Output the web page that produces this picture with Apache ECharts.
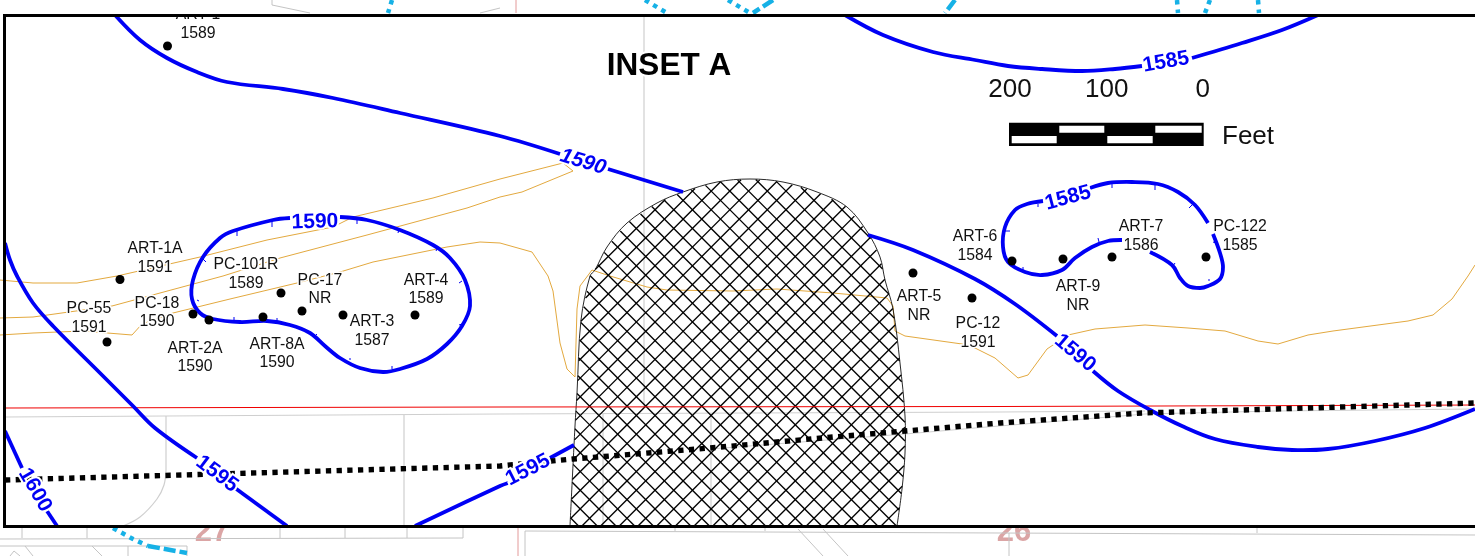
<!DOCTYPE html>
<html>
<head>
<meta charset="utf-8">
<style>html,body{margin:0;padding:0;background:#fff}#c{width:1475px;height:556px}</style>
<script src="https://cdn.jsdelivr.net/npm/echarts@6/dist/echarts.min.js"></script>
</head>
<body>
<div id="c"></div>
<script>
// ---- Map data (map coordinates, y downwards) ----
const wellNames    = ['ART-1','ART-1A','PC-55','PC-18','ART-2A','ART-8A','PC-101R','PC-17','ART-3','ART-4','ART-5','PC-12','ART-6','ART-9','ART-7','PC-122'];
const wellReadings = ['1589','1591','1591','1590','1590','1590','1589','NR','1587','1589','NR','1591','1584','NR','1586','1585'];
const wellX        = [167.5,120,107,193,209,263,281,302,343,415,913,972,1012,1063,1112,1206];
const wellY        = [46,279.5,342,314,320,317,293,311,315,315,273,298,261,259,257,257];
const wellLabelX   = [198,155,89,157,195,277,246,320,372,426,919,978,975,1078,1141,1240];
const wellLabelY   = [24,258,318,312.5,357.5,353.7,274,289.5,331,289.5,306,333,246,296,236,236];

const contour1590a = [[115,15],[140,40],[167,58],[197,72],[227,82],[283,89],[333,98],[400,113],[500,136],[560,154]];
const contour1590b = [[608,169],[683,192]];
const contour1590c = [[868,235],[913,250],[975,279],[1015,304],[1057,336]];
const contour1590d = [[1093,371],[1118,391],[1152,411],[1182,426],[1215,439],[1258,447],[1292,450],[1328,449],[1375,441],[1425,428],[1475,409]];
const loop1590     = [[340,217],[367,220],[400,230],[433,245],[450,258],[465,280],[470,306],[462,326],[447,344],[427,359],[400,369],[383,372],[360,368],[340,358],[325,346],[310,333],[290,325],[267,321],[240,322],[213,319],[200,313],[192,299],[193,280],[203,257],[220,238],[233,231],[273,220],[290,218]];
const loop1585a    = [[1090,188],[1108,183],[1132,182],[1158,184],[1178,192],[1195,205],[1208,223]];
const loop1585b    = [[1213,234],[1220,253],[1223,267],[1220,279],[1208,286],[1200,288],[1188,286],[1180,278],[1172,265],[1150,252]];
const loop1585c    = [[1122,240],[1108,241],[1092,247],[1075,258],[1062,270],[1042,275],[1025,272],[1008,262],[1003,247],[1005,227],[1015,210],[1027,204],[1043,201]];
const contour1585a = [[845,15],[883,35],[933,52],[975,60],[1008,66],[1042,69],[1082,71],[1115,69],[1142,66]];
const contour1585b = [[1192,58],[1242,43],[1282,30],[1318,15]];
const contour1595a = [[5,243],[10,260],[17,276],[33,303],[53,326],[100,373],[133,406],[155,428],[197,458]];
const contour1595b = [[235,488],[287,526]];
const contour1595c = [[415,526],[500,486],[508,483]];
const contour1595d = [[550,458],[574,445]];
const contour1600a = [[5,431],[22,468]];
const contour1600b = [[47,511],[57,526]];
const contourLabels = [['1590',583,162,-17,'italic'],['1590',315,222,2,'normal'],['1590',1075,353,-40,'normal'],['1595',217,474,-37,'normal'],['1595',528,470,27,'normal'],['1600',35,490,-60,'normal'],['1585',1166,62,10,'normal'],['1585',1068,198,15,'normal']];
const depressionTicks = [[[237,231],[237,236]],[[272,221],[272,227]],[[357,219],[357,224]],[[399,229],[398,233]],[[438,247],[436,251]],[[203,259],[206,262]],[[197,300],[199,301]],[[234,317],[234,320]],[[277,318],[277,322]],[[317,334],[315,336]],[[350,358],[350,360]],[[392,366],[392,369]],[[433,354],[431,357]],[[462,324],[459,325]],[[462,281],[459,283]],[[1038,204],[1038,207]],[[1005,231],[1010,231]],[[1112,184],[1112,188]],[[1155,185],[1155,190]],[[1192,205],[1189,208]],[[1213,242],[1216,243]],[[1175,263],[1173,266]],[[1098,238],[1099,242]],[[1023,267],[1023,270]],[[1209,279],[1209,281]]];

const orange1 = [[0,280],[33,283],[77,283],[117,276],[200,257],[267,240],[333,227],[353,217],[433,198],[500,179],[563,163],[573,171],[522,192],[500,197],[467,208],[367,235],[280,258],[223,276],[160,293],[112,306],[33,317],[0,318]];
const orange2 = [[0,335],[33,333],[83,331],[132,335],[142,324],[173,313],[230,299],[297,283],[340,272],[373,262],[447,247],[480,242],[500,243],[532,252],[548,276],[553,291],[560,343],[567,369],[575,377],[577,309],[580,286],[592,270],[610,276],[647,287],[667,290],[733,291],[777,289],[833,293],[887,298],[893,306],[895,331],[905,336],[962,344],[975,348],[995,358],[1018,378],[1028,375],[1047,349],[1068,335],[1095,329],[1145,325],[1188,328],[1225,331],[1258,341],[1278,344],[1308,335],[1333,331],[1408,321],[1433,315],[1452,299],[1468,276],[1475,265]];

const parcelLines = [
  [[644,15],[644,408]],
  [[5,417],[166,416],[500,414],[1000,412],[1145,411]],
  [[710,449],[905,434],[975,428],[1145,414],[1275,411],[1475,409]],
  [[166,416],[166,470]],
  [[404,415],[404,526]],
  [[603,414],[603,526]],
  [[711,414],[711,526]]
];
const parcelCurve = [[166,470],[164,485],[157,499],[140,517],[123,526]];
const outsideGrayLines = [
  [[272,0],[272,5],[310,13]],[[480,13],[500,8]],
  [[0,539],[463,538]],[[22,527],[22,538]],[[87,527],[87,538]],[[280,527],[280,538]],[[345,527],[345,538]],[[407,527],[407,538]],[[463,527],[463,538]],
  [[0,546],[187,546],[187,556]],[[128,546],[128,556]],[[10,556],[14,551],[20,556]],[[25,546],[33,556]],[[92,546],[102,556]],
  [[525,556],[525,531],[1475,535]],[[675,527],[675,531]],[[765,527],[765,531]],[[798,529],[823,556]],[[823,529],[848,556]],
  [[1009,533],[1009,556]],[[1257,527],[1257,533]]
];
const outsideRedLines = [[[516,0],[516,13]],[[518,527],[518,556]]];
const cyanDotted = [[[645,0],[667,13]],[[728,0],[750,13]],[[1177,0],[1178,13]],[[1210,0],[1205,13]],[[1258,0],[1259,13]],[[392,0],[388,13]],[[113,528],[133,539],[148,546]]];
const cyanDashed = [[[773,0],[753,13]],[[955,0],[945,13]],[[148,546],[187,553]]];
const redLine = [[5,408],[500,407],[1000,406.5],[1475,405]];
const dottedBoundary = [[5,480],[500,466],[573,459],[710,448],[833,437],[905,431],[1000,423],[1142,413],[1308,408],[1475,403]];
const hatchOutline = [[570,526],[575,426],[577,393],[581,320],[590,276],[595,270],[607,247],[627,223],[657,203],[683,192],[717,182],[750,179],[783,182],[817,192],[847,207],[868,233],[880,257],[885,280],[893,309],[900,363],[905,416],[905,453],[902,489],[897,526]];
const hatchSpacing = 18.7, hatchPhaseSum = 958.3, hatchPhaseDiff = 258.3;
const sectionNumbers = [['27',212,532],['26',1014,532]];
const scaleTicks = ['200','100','0'], scaleTickX = [1010,1106.7,1202.7];
const scaleFrame = [1009,122.7,1203.7,146];
const scaleWhiteCells = [[1059.3,125.7,1104.3,132.7],[1155.3,125.7,1201.7,132.7],[1011.7,136,1056.7,143.3],[1107.3,136,1152.7,143.3]];
const insideRect = [4.5,15.5,1475,526.5];

// ---- helpers ----
const font = '"Liberation Sans", Arial, sans-serif';
const Z = {pink:1, white:2, parcel:3, orange:4, hatch:5, red:6, contour:7, dotted:8, wells:9, text:10, mask:12, outside:13, frame:14};
function poly(pts, color, width, z, opt){
  return Object.assign({type:'line', data:pts, showSymbol:false, symbol:'none', silent:true, z:z, animation:false, clip:false,
    lineStyle:{color:color, width:width, cap:'butt', join:'round'}}, opt||{});
}
// free-form curve through the data points
function curve(pts, color, width, z){
  return {type:'custom', coordinateSystem:'cartesian2d', data:pts, silent:true, z:z, animation:false, clip:false,
    renderItem(p, api){
      if(p.dataIndex!==0) return null;
      return {type:'polyline', shape:{points:pts.map(q=>api.coord(q)), smooth:0.35},
        style:{fill:null, stroke:color, lineWidth:width, lineCap:'butt', lineJoin:'round'}};
    }};
}
function rectSeries(rects, fill, z){
  return {type:'custom', coordinateSystem:'cartesian2d', data:rects.map((r,i)=>[i]), silent:true, z:z, animation:false, clip:false,
    renderItem(p, api){
      const r = rects[api.value(0)], a = api.coord([r[0],r[1]]), b = api.coord([r[2],r[3]]);
      return {type:'rect', shape:{x:a[0],y:a[1],width:b[0]-a[0],height:b[1]-a[1]}, style:{fill:fill}};
    }};
}
function textSeries(rows, style, z){
  return {type:'scatter', symbolSize:1, silent:true, z:z, animation:false, clip:false,
    itemStyle:{color:'rgba(0,0,0,0)',opacity:1},
    data:rows.map(r=>({value:[r.x,r.y], label:Object.assign({show:true, opacity:1, position:'inside', formatter:r.text, rotate:r.rotate||0,
      fontStyle:r.fontStyle||'normal', align:r.align||'center', verticalAlign:'middle'}, style)}))};
}
function hatchSegments(){
  // clip two diagonal line families against the outline polygon
  const segs=[], n=hatchOutline.length;
  const fam=(sign,phase)=>{
    for(let k=-80;k<=80;k++){
      const c=phase+k*hatchSpacing, hits=[];
      for(let i=0;i<n;i++){
        const A=hatchOutline[i],B=hatchOutline[(i+1)%n];
        const fa=A[0]+sign*A[1]-c, fb=B[0]+sign*B[1]-c;
        if((fa<0)!==(fb<0)){const t=fa/(fa-fb);hits.push([A[0]+t*(B[0]-A[0]),A[1]+t*(B[1]-A[1])]);}
      }
      hits.sort((a,b)=>a[0]-b[0]);
      for(let i=0;i+1<hits.length;i+=2)segs.push([hits[i],hits[i+1]]);
    }
  };
  fam(1,hatchPhaseSum); fam(-1,hatchPhaseDiff);
  return segs;
}

const series = [];
// section numbers, then the white inset body over them
series.push(textSeries(sectionNumbers.map(s=>({text:s[0],x:s[1],y:s[2]})), {color:'#dba5a5',fontFamily:font,fontWeight:'bold',fontSize:31}, Z.pink));
series.push(rectSeries([insideRect],'#fff',Z.white));
parcelLines.forEach(l=>series.push(poly(l,'#cfcfcf',1.2,Z.parcel)));
series.push(curve(parcelCurve,'#cfcfcf',1.2,Z.parcel));
series.push(poly(orange1,'#e3a93f',1,Z.orange));
series.push(poly(orange2,'#e3a93f',1,Z.orange));
// hatched area
const segs = hatchSegments();
series.push({type:'custom', coordinateSystem:'cartesian2d', data:[[0]], silent:true, z:Z.hatch, animation:false, clip:false,
  renderItem(p, api){
    const children = segs.map(s=>{const a=api.coord(s[0]),b=api.coord(s[1]);
      return {type:'line',shape:{x1:a[0],y1:a[1],x2:b[0],y2:b[1]},style:{stroke:'#000',lineWidth:1.35,fill:null}};});
    return {type:'group',children:children};
  }});
series.push(curve(hatchOutline,'#111',0.9,Z.hatch));
series.push(poly(redLine,'#f00000',1,Z.red));
[contour1590a,contour1590b,contour1590c,contour1590d,loop1590,loop1585a,loop1585b,loop1585c,contour1585a,contour1585b,contour1595a,contour1595b,contour1595c,contour1595d,contour1600a,contour1600b].forEach(c=>series.push(curve(c,'#0000f5',3.8,Z.contour)));
depressionTicks.forEach(t=>series.push(poly(t,'#0000f5',1,Z.contour)));
series.push(poly(dottedBoundary,'#000',5.4,Z.dotted,{lineStyle:{color:'#000',width:5.4,type:[5.3,5.4],cap:'butt'}}));
// wells
series.push({type:'scatter',symbol:'circle',symbolSize:9,silent:true,z:Z.wells,animation:false,clip:false,itemStyle:{color:'#000',opacity:1},
  data:wellX.map((x,i)=>[x,wellY[i]])});
series.push(textSeries(wellNames.map((n,i)=>({text:n+'\n'+wellReadings[i],x:wellLabelX[i],y:wellLabelY[i]})),
  {color:'#111',fontFamily:font,fontSize:15.8,lineHeight:18.5,textBorderColor:'#fff',textBorderWidth:3}, Z.text));
// contour labels
series.push(textSeries(contourLabels.map(c=>({text:c[0],x:c[1],y:c[2],rotate:c[3],fontStyle:c[4]})),
  {color:'#0000f5',fontFamily:font,fontWeight:'bold',fontSize:21,textBorderColor:'#fff',textBorderWidth:4}, Z.text));
// title and scale
series.push(textSeries([{text:'INSET A',x:669,y:66}],{color:'#000',fontFamily:font,fontWeight:'bold',fontSize:31.5,textBorderColor:'#fff',textBorderWidth:4},Z.text));
series.push(textSeries(scaleTicks.map((t,i)=>({text:t,x:scaleTickX[i],y:90.2})),{color:'#111',fontFamily:font,fontSize:26},Z.text));
series.push(textSeries([{text:'Feet',x:1222,y:137,align:'left'}],{color:'#111',fontFamily:font,fontSize:26},Z.text));
series.push(rectSeries([scaleFrame],'#000',Z.text));
series.push(rectSeries(scaleWhiteCells,'#fff',Z.text+0.5));
// mask above the frame, then outside-of-frame linework
series.push(rectSeries([[0,0,1475,14]],'#fff',Z.mask));
outsideGrayLines.forEach(l=>series.push(poly(l,'#c4c4c4',1,Z.outside)));
outsideRedLines.forEach(l=>series.push(poly(l,'#e39a9a',1,Z.outside)));
cyanDotted.forEach(l=>series.push(poly(l,'#16b1e6',4.5,Z.outside,{lineStyle:{color:'#16b1e6',width:4.5,type:[4.5,5]}})));
cyanDashed.forEach(l=>series.push(poly(l,'#16b1e6',4.5,Z.outside,{lineStyle:{color:'#16b1e6',width:4.5,type:[12,4]}})));
// frame
series.push(poly([[1480,15.5],[4.5,15.5],[4.5,526.5],[1480,526.5]],'#000',3,Z.frame,{lineStyle:{color:'#000',width:3,join:'miter'}}));

const chart = echarts.init(document.getElementById('c'), null, {renderer:'canvas', width:1475, height:556});
chart.setOption({
  animation:false, backgroundColor:'#fff', tooltip:{show:false}, legend:{show:false},
  grid:{left:0,right:0,top:0,bottom:0,containLabel:false},
  xAxis:{type:'value',min:0,max:1475,show:false},
  yAxis:{type:'value',min:0,max:556,inverse:true,show:false},
  series:series
});
</script>
</body>
</html>
